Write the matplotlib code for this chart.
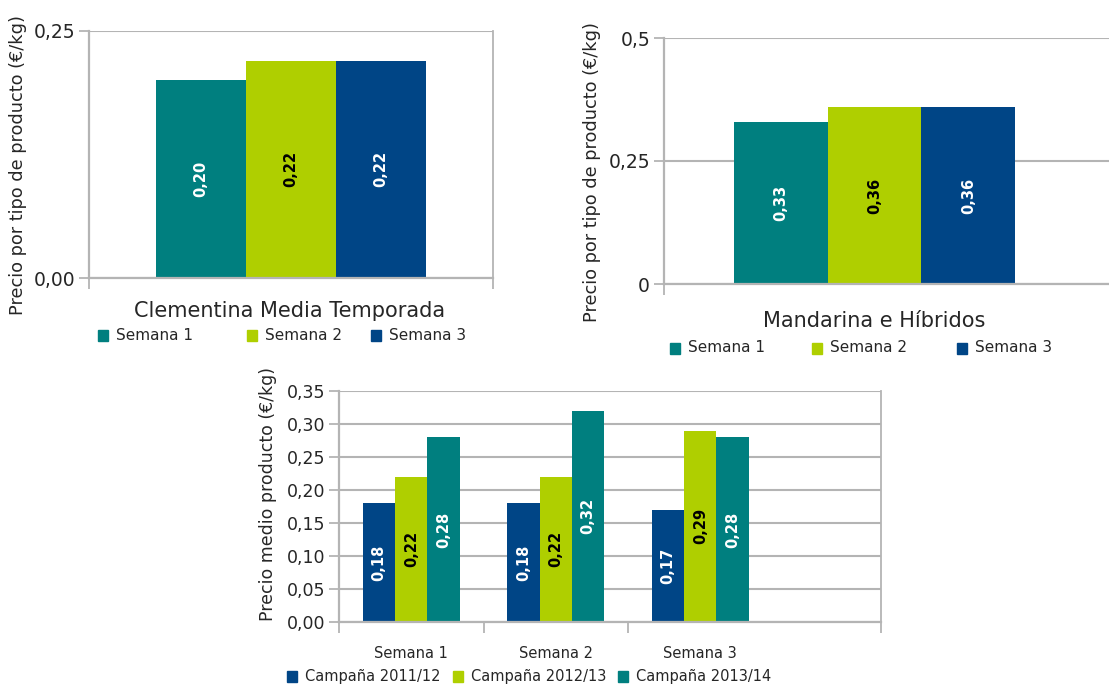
# -*- coding: utf-8 -*-

# Precios de citricos: dos paneles por producto y uno por campana.
import matplotlib
matplotlib.use("Agg")
import matplotlib.pyplot as plt # For the figure.
from matplotlib.patches import Rectangle # For legend squares.

# Data:
semanas = ["Semana 1", "Semana 2", "Semana 3"]
clementina = [0.20, 0.22, 0.22]
mandarina = [0.33, 0.36, 0.36]
campanas = ["Campaña 2011/12", "Campaña 2012/13", "Campaña 2013/14"]
camp_2011 = [0.18, 0.18, 0.17]
camp_2012 = [0.22, 0.22, 0.29]
camp_2013 = [0.28, 0.32, 0.28]

ticks_clem = [0.0, 0.25]
labels_clem = ["0,00", "0,25"]
ticks_mand = [0.0, 0.25, 0.5]
labels_mand = ["0", "0,25", "0,5"]
ticks_total = [0.0, 0.05, 0.10, 0.15, 0.20, 0.25, 0.30, 0.35]
labels_total = ["0,00", "0,05", "0,10", "0,15", "0,20", "0,25", "0,30", "0,35"]

TEAL = "#007f7f"
GREEN = "#afcf00"
NAVY = "#004586"
GRID = "#b4b4b4"
TXT = "#262626"

W, H = 1109, 686 # Output size in pixels.

plt.rcParams['font.family'] = ['DejaVu Sans']

def box(l, t, r, b):
    '''
    Axes rectangle from pixel edges (top-left origin).
    '''
    return [l / W, 1 - b / H, (r - l) / W, (b - t) / H]

def style_axis(ax, ticks, labels, ymax, xlim, cat_edges, size, right=True):
    '''
    Excel look: gray gridlines, gray axis lines, outward ticks.
    '''
    ax.set_ylim(0, ymax)
    ax.set_xlim(*xlim)
    ax.set_yticks(ticks)
    ax.set_yticklabels(labels, fontsize=size, color=TXT)
    ax.yaxis.grid(True, color=GRID, linewidth=1.5)
    ax.set_axisbelow(True)
    ax.set_xticks(cat_edges)
    ax.set_xticklabels([])
    ax.tick_params(axis="y", length=7, width=1.3, color=GRID, pad=3)
    ax.tick_params(axis="x", length=8, width=1.3, color=GRID)
    for s in ["left", "bottom"]:
        ax.spines[s].set_color(GRID)
        ax.spines[s].set_linewidth(1.6)
    ax.spines["top"].set_visible(False)
    ax.spines["right"].set_visible(right)
    ax.spines["right"].set_color(GRID)
    ax.spines["right"].set_linewidth(1.3)

def bar_labels(ax, bars, values, color):
    for b, v in zip(bars, values):
        ax.text(b.get_x() + b.get_width() / 2, v / 2, ("%.2f" % v).replace(".", ","),
                rotation=90, ha="center", va="center", fontsize=10.5,
                fontweight="bold", color=color)

def legend_row(fig, xs, y, labels, colors, size):
    for x, lab, c in zip(xs, labels, colors):
        fig.add_artist(Rectangle((x / W, 1 - (y + 5.5) / H), 10 / W, 11 / H,
                                 transform=fig.transFigure, color=c))
        fig.text((x + 18) / W, 1 - y / H, lab, fontsize=size, color=TXT,
                 ha="left", va="center")

fig = plt.figure(figsize=(W / 100, H / 100), dpi=100)
colors = [TEAL, GREEN, NAVY]
text_colors = ["white", "black", "white"]
w = 0.223 # Bar width in category units.

# Panel 1: Clementina Media Temporada.
ax1 = fig.add_axes(box(89, 31, 493, 278))
for i, (v, c, tc) in enumerate(zip(clementina, colors, text_colors)):
    b = ax1.bar([(i - 1) * w], [v], width=w, color=c)
    bar_labels(ax1, b, [v], tc)
style_axis(ax1, ticks_clem, labels_clem, 0.25, (-0.5, 0.5), [-0.5, 0.5], 13.5)
fig.text(290 / W, 1 - 311 / H, "Clementina Media Temporada", fontsize=15,
         color=TXT, ha="center", va="center")
fig.text(18 / W, 1 - 165 / H, "Precio por tipo de producto (€/kg)", fontsize=12.8,
         color=TXT, rotation=90, ha="center", va="center")
legend_row(fig, [98, 247, 371], 335, semanas, colors, 11)

# Panel 2: Mandarina e Hibridos (cut at the right edge).
ax2 = fig.add_axes(box(664, 38, 1109, 284))
for i, (v, c, tc) in enumerate(zip(mandarina, colors, text_colors)):
    b = ax2.bar([(i - 1) * w], [v], width=w, color=c)
    bar_labels(ax2, b, [v], tc)
style_axis(ax2, ticks_mand, labels_mand, 0.5, (-0.5, 0.557), [-0.5], 13.5, right=False)
fig.text(874 / W, 1 - 321 / H, "Mandarina e Híbridos", fontsize=15,
         color=TXT, ha="center", va="center")
fig.text(592 / W, 1 - 172 / H, "Precio por tipo de producto (€/kg)", fontsize=12.8,
         color=TXT, rotation=90, ha="center", va="center")
legend_row(fig, [670, 812, 957], 348, semanas, colors, 11)

# Panel 3: precio medio por campana.
ax3 = fig.add_axes(box(339, 391, 881, 622))
camp_colors = [NAVY, GREEN, TEAL]
camp_text = ["white", "black", "white"]
for j, (vals, c, tc) in enumerate(zip([camp_2011, camp_2012, camp_2013], camp_colors, camp_text)):
    xs = [k + (j - 1) * w for k in range(len(semanas))]
    b = ax3.bar(xs, vals, width=w, color=c)
    bar_labels(ax3, b, vals, tc)
style_axis(ax3, ticks_total, labels_total, 0.35, (-0.5, 3.25), [-0.5, 0.5, 1.5, 3.25], 12.5)
for k, s in enumerate(semanas):
    ax3.text(k, -0.048, s, fontsize=10.5, color=TXT, ha="center", va="center")
fig.text(268 / W, 1 - 494 / H, "Precio medio producto (€/kg)", fontsize=12.5,
         color=TXT, rotation=90, ha="center", va="center")
legend_row(fig, [287, 453, 618], 676, campanas, camp_colors, 10.5)

fig.savefig("out.png", dpi=100)
